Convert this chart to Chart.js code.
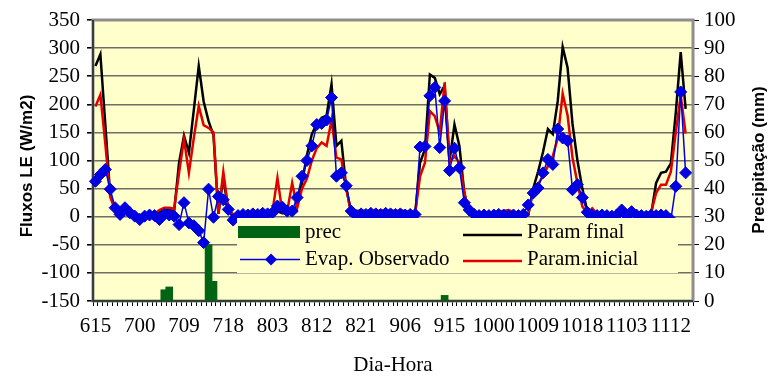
<!DOCTYPE html>
<html>
<head>
<meta charset="utf-8">
<script src="https://cdn.jsdelivr.net/npm/chart.js@4/dist/chart.umd.min.js"></script>
<style>
  html, body { margin: 0; padding: 0; background: #ffffff; }
  canvas { display: block; }
</style>
</head>
<body>
<canvas id="grafico" width="769" height="377"></canvas>
<script>
// Dia-Hora (DDHH), one entry per hour
const horas = [
  '615','616','617','618','619','620','621','622','623',
  '700','701','702','703','704','705','706','707','708','709','710','711','712','713','714','715','716','717','718','719','720','721','722','723',
  '800','801','802','803','804','805','806','807','808','809','810','811','812','813','814','815','816','817','818','819','820','821','822','823',
  '900','901','902','903','904','905','906','907','908','909','910','911','912','913','914','915','916','917','918','919','920','921','922','923',
  '1000','1001','1002','1003','1004','1005','1006','1007','1008','1009','1010','1011','1012','1013','1014','1015','1016','1017','1018','1019','1020','1021','1022','1023',
  '1100','1101','1102','1103','1104','1105','1106','1107','1108','1109','1110','1111','1112','1113','1114','1115','1116'
];

// Fluxos LE (W/m2)
const evapObservado = [
   63,  75,  84,  49,  16,   4,  16,   7,   1,  -5,
    1,   3,   2,  -5,   4,   3,   1, -14,  25, -11,
  -16, -25, -46,  49,  -1,  36,  30,  13,  -6,   2,
    4,   3,   5,   4,   6,   5,   7,  19,  17,  10,
   10,  34,  72, 100, 126, 164, 166, 172, 212,  72,
   78,  55,  10,   2,   5,   4,   6,   5,   4,   6,
    5,   4,   5,   3,   4,   4, 124, 125, 215, 230,
  123, 206,  82, 122,  87,  25,  12,   4,   2,   3,
    2,   3,   4,   3,   2,   3,   2,   4,  21,  42,
   51,  78, 102,  93, 156, 140, 135,  48,  57,  34,
    8,   3,   2,   3,   2,   1,   3,  12,   2,   9,
    3,   2,   1,   3,   2,   3,   2,  -5,  54, 222,
   78
];

const paramFinal = [
  268, 289, 165,  38,  14,   6,  10,   6,   3,   2,
    2,   3,   3,   8,  12,  12,  10,  96, 144, 114,
  190, 268, 205, 170, 145,   5,  70,  10,   3,   5,
    6,   5,   6,   5,   6,   7,   6,  10,   6,   6,
   10,  20,  60, 110, 147, 165, 176, 180, 236, 126,
  135,  50,   6,   7,   8,   8,   7,   8,   8,   8,
    7,   8,   8,   6,   5,   5,  96, 120, 253, 247,
  218, 233,  99, 164, 126,  43,   4,   3,   3,   4,
    3,   3,   5,   4,   6,   5,   4,   3,   3,  50,
   80, 115, 156, 147, 206, 302, 265, 165, 100,  50,
   10,   3,   3,   4,   3,   4,   3,   5,   4,   3,
    4,   3,   4,   5,  60,  78,  80,  95, 185, 293,
  192
];

const paramInicial = [
  196, 217, 130,  35,  12,   6,  10,   6,   4,   3,
    3,   4,   5,  12,  16,  16,  14,  78, 138,  78,
  140, 197, 163, 158, 150,   5,  80,  15,   4,   6,
    8,   6,   8,   6,   8,   8,  10,  69,   8,  10,
   60,  15,  50,  68, 100, 122, 132, 126, 172, 105,
  102,  50,   8,  10,  11,  10,  11,  10,  11,  10,
   11,  10,  11,  10,   8,   5,  72,  96, 188, 179,
  150, 239,  96, 108,  96,  43,   5,   5,   6,   5,
    6,   5,   8,  10,  12,   8,   6,   5,   5,  45,
   58,  72,  90, 108, 140, 219, 180, 105,  60,  18,
    6,  15,   5,   5,   6,   5,   6,   5,   6,   5,
    6,   5,   6,   8,  42,  57,  57,  80, 150, 216,
  148
];

// Precipitação (mm)
const prec = [
  0, 0, 0, 0, 0, 0, 0, 0, 0, 0,
  0, 0, 0, 0, 4, 5, 0, 0, 0, 0,
  0, 0, 0, 20, 7, 0, 0, 0, 0, 0,
  0, 0, 0, 0, 0, 0, 0, 0, 0, 0,
  0, 0, 0, 0, 0, 0, 0, 0, 0, 0,
  0, 0, 0, 0, 0, 0, 0, 0, 0, 0,
  0, 0, 0, 0, 0, 0, 0, 0, 0, 0,
  0, 2, 0, 0, 0, 0, 0, 0, 0, 0,
  0, 0, 0, 0, 0, 0, 0, 0, 0, 0,
  0, 0, 0, 0, 0, 0, 0, 0, 0, 0,
  0, 0, 0, 0, 0, 0, 0, 0, 0, 0,
  0, 0, 0, 0, 0, 0, 0, 0, 0, 0,
  0
];

// axis ranges and label spacing
const fluxoEixo = { min: -150, max: 350, passo: 50 };
const precEixo = { min: 0, max: 100, passo: 10 };
const rotuloCada = 9;

const serif = 'Liberation Serif, Times New Roman, serif';
const sansBold = 'Liberation Sans, Arial, sans-serif';
const fundoPlot = '#ffffcc';

// plot background, frame, in-plot legend and axis titles
const moldura = {
  id: 'moldura',
  beforeDraw(chart) {
    const { ctx, chartArea: a } = chart;
    ctx.save();
    ctx.fillStyle = fundoPlot;
    ctx.fillRect(a.left, a.top, a.right - a.left, a.bottom - a.top);
    ctx.restore();
  },
  beforeDatasetsDraw(chart) {
    const { ctx, chartArea: a } = chart;
    ctx.save();
    ctx.strokeStyle = '#8e8e8e';
    ctx.lineWidth = 3;
    ctx.strokeRect(a.left, a.top, a.right - a.left, a.bottom - a.top);
    ctx.strokeStyle = '#202020';
    ctx.lineWidth = 1.5;
    ctx.beginPath();
    ctx.moveTo(a.left, a.top);
    ctx.lineTo(a.left, a.bottom);
    ctx.lineTo(a.right, a.bottom);
    ctx.stroke();
    ctx.restore();
  },
  afterDatasetsDraw(chart) {
    const { ctx } = chart;
    const ds = label => chart.data.datasets.find(d => d.label === label);
    const box = { x: 237, y: 218, w: 441, h: 55 };
    ctx.save();
    ctx.fillStyle = fundoPlot;
    ctx.fillRect(box.x, box.y, box.w, box.h);
    ctx.font = '21px ' + serif;
    ctx.textBaseline = 'middle';
    ctx.textAlign = 'left';

    const p = ds('prec');
    ctx.fillStyle = p.backgroundColor;
    ctx.fillRect(238, 226, 62, 12);
    ctx.fillStyle = '#000';
    ctx.fillText(p.label, 305, 232);

    const f = ds('Param final');
    ctx.strokeStyle = f.borderColor;
    ctx.lineWidth = f.borderWidth;
    ctx.beginPath(); ctx.moveTo(463, 235); ctx.lineTo(522, 235); ctx.stroke();
    ctx.fillText(f.label, 527, 232);

    const e = ds('Evap. Observado');
    ctx.strokeStyle = e.borderColor;
    ctx.lineWidth = e.borderWidth;
    ctx.beginPath(); ctx.moveTo(240, 259.5); ctx.lineTo(300, 259.5); ctx.stroke();
    ctx.fillStyle = e.pointBackgroundColor;
    const r = e.pointRadius;
    ctx.beginPath();
    ctx.moveTo(271, 259.5 - r); ctx.lineTo(271 + r, 259.5);
    ctx.lineTo(271, 259.5 + r); ctx.lineTo(271 - r, 259.5);
    ctx.closePath(); ctx.fill();
    ctx.fillStyle = '#000';
    ctx.fillText(e.label, 305, 259);

    const i = ds('Param.inicial');
    ctx.strokeStyle = i.borderColor;
    ctx.lineWidth = i.borderWidth;
    ctx.beginPath(); ctx.moveTo(463, 261); ctx.lineTo(522, 261); ctx.stroke();
    ctx.fillText(i.label, 527, 259);
    ctx.restore();
  },
  afterDraw(chart) {
    const { ctx, chartArea: a } = chart;
    ctx.save();
    ctx.fillStyle = '#000';
    ctx.textAlign = 'center';
    ctx.textBaseline = 'middle';
    ctx.font = '21px ' + serif;
    ctx.fillText('Dia-Hora', (a.left + a.right) / 2, 365);

    ctx.font = 'bold 17px ' + sansBold;
    ctx.translate(27, 166);
    ctx.rotate(-Math.PI / 2);
    ctx.fillText('Fluxos LE (W/m2)', 0, 0);
    ctx.restore();

    ctx.save();
    ctx.fillStyle = '#000';
    ctx.textAlign = 'center';
    ctx.textBaseline = 'middle';
    ctx.font = 'bold 17px ' + sansBold;
    ctx.translate(759, 160);
    ctx.rotate(-Math.PI / 2);
    ctx.fillText('Precipitação (mm)', 0, 0);
    ctx.restore();
  }
};

const tickFont = { family: serif, size: 21 };

new Chart(document.getElementById('grafico'), {
  data: {
    labels: horas,
    datasets: [
      {
        type: 'bar', label: 'prec', data: prec, yAxisID: 'y1',
        backgroundColor: '#006414', borderWidth: 0, barThickness: 7, order: 4
      },
      {
        type: 'line', label: 'Param final', data: paramFinal, yAxisID: 'y',
        borderColor: '#000000', borderWidth: 2.5, pointRadius: 0, tension: 0, order: 3
      },
      {
        type: 'line', label: 'Param.inicial', data: paramInicial, yAxisID: 'y',
        borderColor: '#e00000', borderWidth: 2.5, pointRadius: 0, tension: 0, order: 2
      },
      {
        type: 'line', label: 'Evap. Observado', data: evapObservado, yAxisID: 'y',
        borderColor: '#0000e0', borderWidth: 1.5, tension: 0,
        pointStyle: 'rectRot', pointRadius: 6,
        pointBackgroundColor: '#0000e0', pointBorderColor: '#0000e0', pointBorderWidth: 1,
        order: 1
      }
    ]
  },
  options: {
    responsive: false,
    devicePixelRatio: 1,
    animation: false,
    layout: { padding: { top: 20, left: 0, right: 0, bottom: 0 } },
    plugins: { legend: { display: false }, tooltip: { enabled: false } },
    scales: {
      x: {
        type: 'category',
        offset: true,
        grid: {
          display: true, drawOnChartArea: false, drawTicks: true, offset: true,
          tickLength: 5, tickColor: '#000', color: '#000', lineWidth: 1
        },
        border: { display: false },
        ticks: {
          autoSkip: false, maxRotation: 0, minRotation: 0, padding: 8,
          color: '#000', font: tickFont,
          callback: (v, i) => (i % rotuloCada === 0 ? horas[i] : '')
        },
        afterFit: s => { s.height = 76; }
      },
      y: {
        position: 'left',
        min: fluxoEixo.min, max: fluxoEixo.max,
        grid: { color: '#6e6e64', lineWidth: 1.6, tickLength: 6, tickColor: '#000', drawTicks: true },
        border: { display: false },
        ticks: { stepSize: fluxoEixo.passo, autoSkip: false, padding: 7, color: '#000', font: tickFont },
        afterFit: s => { s.width = 93; }
      },
      y1: {
        position: 'right',
        min: precEixo.min, max: precEixo.max,
        grid: { drawOnChartArea: false, tickLength: 6, tickColor: '#000', drawTicks: true },
        border: { display: false },
        ticks: { stepSize: precEixo.passo, autoSkip: false, padding: 5, color: '#000', font: tickFont },
        afterFit: s => { s.width = 76; }
      }
    }
  },
  plugins: [moldura]
});
</script>
</body>
</html>
